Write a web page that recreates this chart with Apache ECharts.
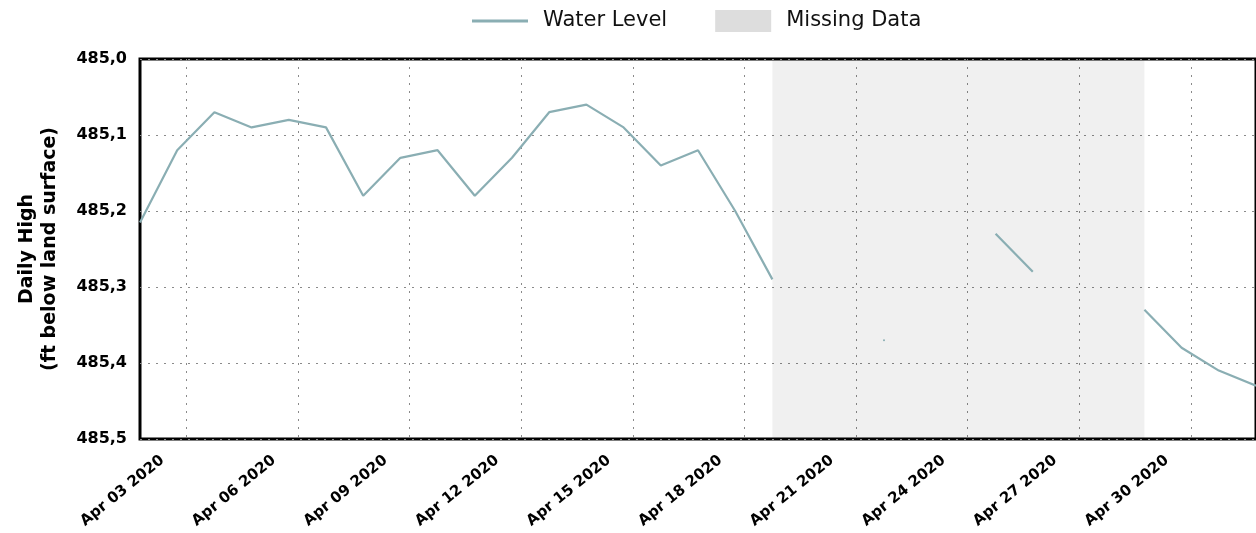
<!DOCTYPE html>
<html>
<head>
<meta charset="utf-8">
<script src="https://cdn.jsdelivr.net/npm/echarts@6/dist/echarts.min.js"></script>
<style>
html,body{margin:0;padding:0;background:#fff;}
#chart{width:1256px;height:533px;}
</style>
</head>
<body>
<div id="chart"></div>
<script>
// ---- data ----
const dates = [
  '2020-04-01','2020-04-02','2020-04-03','2020-04-04','2020-04-05','2020-04-06',
  '2020-04-07','2020-04-08','2020-04-09','2020-04-10','2020-04-11','2020-04-12',
  '2020-04-13','2020-04-14','2020-04-15','2020-04-16','2020-04-17','2020-04-18',
  '2020-04-19','2020-04-20','2020-04-21','2020-04-22','2020-04-23','2020-04-24',
  '2020-04-25','2020-04-26','2020-04-27','2020-04-28','2020-04-29','2020-04-30',
  '2020-05-01'
];
const waterLevel = [
  485.215, 485.12, 485.07, 485.09, 485.08, 485.09,
  485.18, 485.13, 485.12, 485.18, 485.13, 485.07,
  485.06, 485.09, 485.14, 485.12, 485.20, 485.29,
  null, null, 485.37, null, null, 485.23,
  485.28, null, null, 485.33, 485.38, 485.41,
  485.43
];
const missingStart = '2020-04-18';
const missingEnd = '2020-04-28';
const tickDates = ['2020-04-03','2020-04-06','2020-04-09','2020-04-12','2020-04-15',
                   '2020-04-18','2020-04-21','2020-04-24','2020-04-27','2020-04-30'];
const yTicks = [485.0, 485.1, 485.2, 485.3, 485.4, 485.5];
const months = ['Jan','Feb','Mar','Apr','May','Jun','Jul','Aug','Sep','Oct','Nov','Dec'];

// ---- helpers ----
const READ_HOUR = 18; // daily reading time (UTC hours)
function dayMs(d, hour) {
  const p = d.split('-').map(Number);
  return Date.UTC(p[0], p[1] - 1, p[2], hour || 0);
}
const seriesData = dates.map((d, i) => {
  const v = waterLevel[i];
  const t = dayMs(d, READ_HOUR);
  const prevNull = i === 0 || waterLevel[i - 1] == null;
  const nextNull = i === dates.length - 1 || waterLevel[i + 1] == null;
  if (v != null && prevNull && nextNull && i > 0 && i < dates.length - 1) {
    return { value: [t, v], symbol: 'circle', symbolSize: 2 };
  }
  return { value: [t, v] };
});
const tickMs = tickDates.map(d => dayMs(d, 0));

const lineColor = '#8aaeb3';
const labelFont = 'DejaVu Sans';
const chart = echarts.init(document.getElementById('chart'));
chart.setOption({
  animation: false,
  backgroundColor: '#ffffff',
  legend: {
    left: 467,
    top: 5,
    itemWidth: 56,
    itemHeight: 22,
    itemGap: 48,
    symbolKeepAspect: true,
    textStyle: { fontFamily: labelFont, fontSize: 21, color: '#111', padding: [0, 0, 0, 10] },
    data: [
      { name: 'Water Level', icon: 'path://M0,0L56,0L56,3.2L0,3.2Z', itemStyle: { color: lineColor } },
      { name: 'Missing Data', icon: 'rect', itemStyle: { color: '#dddddd' } }
    ]
  },
  grid: {
    left: 140, right: 0, top: 59, bottom: 94,
    show: true, borderColor: '#000', borderWidth: 3, backgroundColor: 'transparent'
  },
  xAxis: {
    type: 'value',
    scale: true,
    min: dayMs(dates[0], READ_HOUR),
    max: dayMs(dates[dates.length - 1], READ_HOUR),
    axisLine: { show: false },
    axisTick: { show: false, customValues: tickMs },
    axisLabel: {
      customValues: tickMs,
      rotate: 39,
      margin: 0,
      padding: [0, 31, 0, 0],
      fontFamily: labelFont,
      fontWeight: 'bold',
      fontSize: 15,
      color: '#000',
      formatter: function (val) {
        const d = new Date(val);
        const dd = String(d.getUTCDate()).padStart(2, '0');
        return months[d.getUTCMonth()] + ' ' + dd + ' ' + d.getUTCFullYear();
      }
    },
    splitLine: { show: true, lineStyle: { color: '#8a8a8a', width: 1, type: [2, 6] } }
  },
  yAxis: {
    type: 'value',
    inverse: true,
    min: yTicks[0],
    max: yTicks[yTicks.length - 1],
    interval: 0.1,
    name: 'Daily High\n(ft below land surface)',
    nameLocation: 'middle',
    nameGap: 78,
    nameTextStyle: { fontFamily: labelFont, fontWeight: 'bold', fontSize: 19, lineHeight: 23, color: '#000' },
    axisLine: { show: false },
    axisTick: { show: false },
    axisLabel: {
      margin: 13,
      fontFamily: labelFont,
      fontWeight: 'bold',
      fontSize: 16,
      color: '#000',
      formatter: v => v.toFixed(1).replace('.', ',')
    },
    splitLine: { show: true, lineStyle: { color: '#8a8a8a', width: 1, type: [2, 6] } }
  },
  series: [
    {
      name: 'Water Level',
      type: 'line',
      data: seriesData,
      symbol: 'none',
      showSymbol: true,
      connectNulls: false,
      color: lineColor,
      itemStyle: { color: lineColor },
      lineStyle: { color: lineColor, width: 2.2 },
      markArea: {
        silent: true,
        itemStyle: { color: 'rgba(0,0,0,0.06)' },
        data: [[{ xAxis: dayMs(missingStart, READ_HOUR) }, { xAxis: dayMs(missingEnd, READ_HOUR) }]]
      },
      z: 3
    },
    {
      name: 'Missing Data',
      type: 'line',
      data: [],
      color: '#dddddd',
      itemStyle: { color: '#dddddd' }
    }
  ]
});
</script>
</body>
</html>
